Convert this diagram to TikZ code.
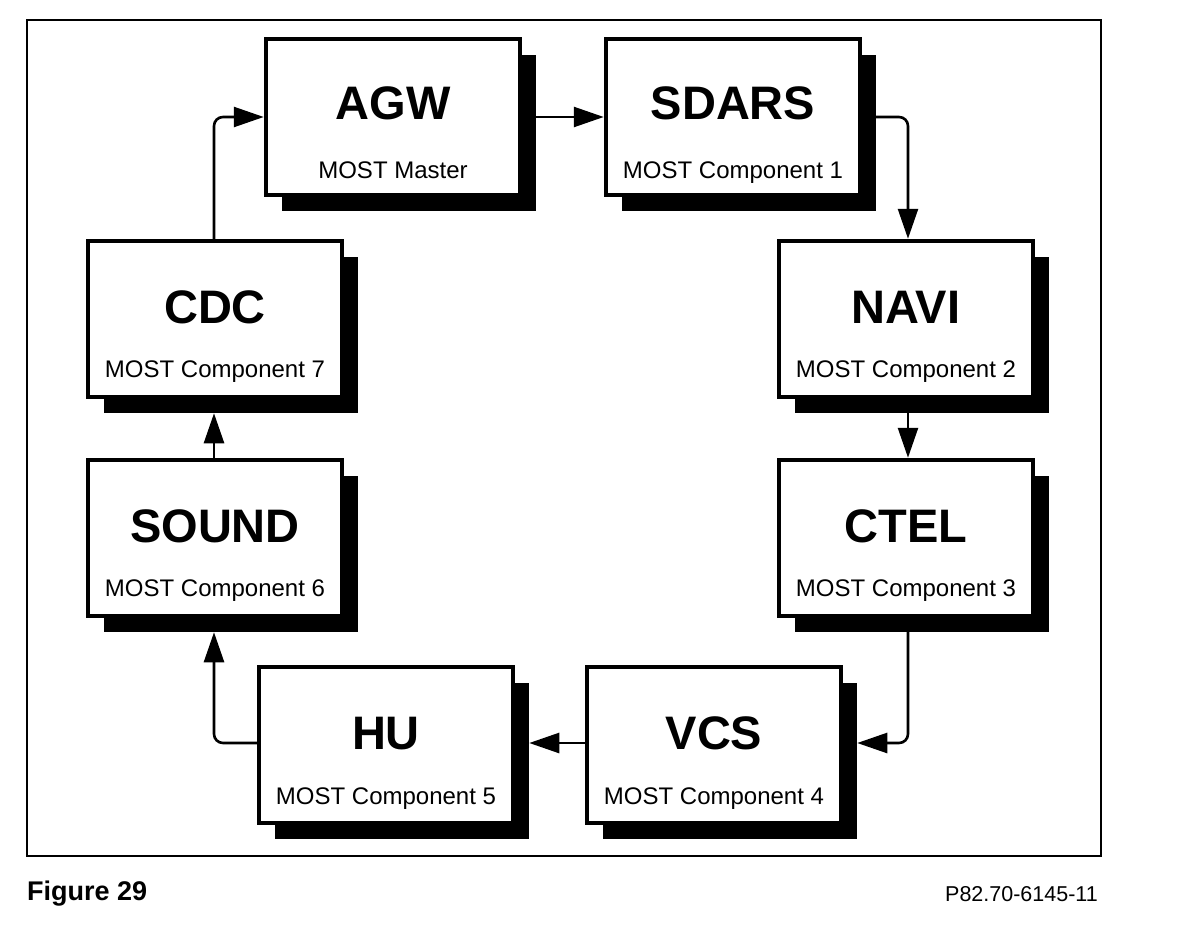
\documentclass[tikz,border=0pt]{standalone}
\usepackage{fontspec}
\setmainfont{Liberation Sans}
\usetikzlibrary{arrows.meta,shadows}

\tikzstyle{unit}=[rectangle,draw,line width=4.5pt,fill=white,minimum width=254pt,minimum height=156pt,inner sep=0pt,
  drop shadow={shadow xshift=16pt,shadow yshift=-16pt,fill=black,opacity=1}]
\tikzstyle{unittitle}=[font=\fontsize{47}{47}\selectfont\bfseries,inner sep=0pt,anchor=base]
\tikzstyle{unitrole}=[font=\fontsize{24}{24}\selectfont,inner sep=0pt,anchor=base]
\tikzstyle{link}=[line width=2.6pt,rounded corners=9pt,-{Triangle[length=30pt,width=20pt]}]

\begin{document}
\begin{tikzpicture}[x=1pt,y=-1pt]
		\useasboundingbox (0,0) rectangle (1184,942);
		\draw[line width=2pt] (27,20) rectangle (1101,856);
		% the eight units of the ring
		\node[unit] (agw) at (393,117) {};
		\node[unit] (sdars) at (733,117) {};
		\node[unit] (navi) at (906,319) {};
		\node[unit] (ctel) at (906,538) {};
		\node[unit] (vcs) at (714,745) {};
		\node[unit] (hu) at (386,745) {};
		\node[unit] (sound) at (215,538) {};
		\node[unit] (cdc) at (215,319) {};
		% their texts
		\node[unittitle] (agwname) at ([yshift=-2pt]agw.center) {AGW};
		\node[unitrole] (agwrole) at ([yshift=-61pt]agw.center) {MOST Master};
		\node[unittitle] (sdarsname) at ([yshift=-2pt]sdars.center) {SDARS};
		\node[unitrole] (sdarsrole) at ([yshift=-61pt]sdars.center) {MOST Component 1};
		\node[unittitle] (naviname) at ([yshift=-4pt]navi.center) {NAVI};
		\node[unitrole] (navirole) at ([yshift=-58pt]navi.center) {MOST Component 2};
		\node[unittitle] (ctelname) at ([yshift=-4pt]ctel.center) {CTEL};
		\node[unitrole] (ctelrole) at ([yshift=-58pt]ctel.center) {MOST Component 3};
		\node[unittitle] (vcsname) at ([yshift=-4pt]vcs.center) {VCS};
		\node[unitrole] (vcsrole) at ([yshift=-59pt]vcs.center) {MOST Component 4};
		\node[unittitle] (huname) at ([yshift=-4pt]hu.center) {HU};
		\node[unitrole] (hurole) at ([yshift=-59pt]hu.center) {MOST Component 5};
		\node[unittitle] (soundname) at ([yshift=-4pt]sound.center) {SOUND};
		\node[unitrole] (soundrole) at ([yshift=-58pt]sound.center) {MOST Component 6};
		\node[unittitle] (cdcname) at ([yshift=-4pt]cdc.center) {CDC};
		\node[unitrole] (cdcrole) at ([yshift=-58pt]cdc.center) {MOST Component 7};
		% Then the ring connections
		\draw[link] (agw.east) -- (sdars.west);
		\draw[link] (sdars.east) -| ([xshift=2pt]navi.north);
		\draw[link] ([xshift=2pt]navi.south) -- ([xshift=2pt]ctel.north);
		\draw[link] ([xshift=2pt]ctel.south) |- ([xshift=14pt,yshift=2pt]vcs.east);
		\draw[link] ([yshift=2pt]vcs.west) -- ([xshift=14pt,yshift=2pt]hu.east);
		\draw[link] ([yshift=2pt]hu.west) -| ([xshift=-1pt,yshift=-14pt]sound.south);
		\draw[link] ([xshift=-1pt]sound.north) -- ([xshift=-1pt,yshift=-14pt]cdc.south);
		\draw[link] ([xshift=-1pt]cdc.north) |- (agw.west);
		% caption line
		\node[font=\fontsize{27}{27}\selectfont\bfseries,inner sep=0pt,anchor=base west] (fig) at (27,900) {Figure 29};
		\node[font=\fontsize{21.5}{22}\selectfont,inner sep=0pt,anchor=base east] (ref) at (1098,901) {P82.70-6145-11};
\end{tikzpicture}
\end{document}
